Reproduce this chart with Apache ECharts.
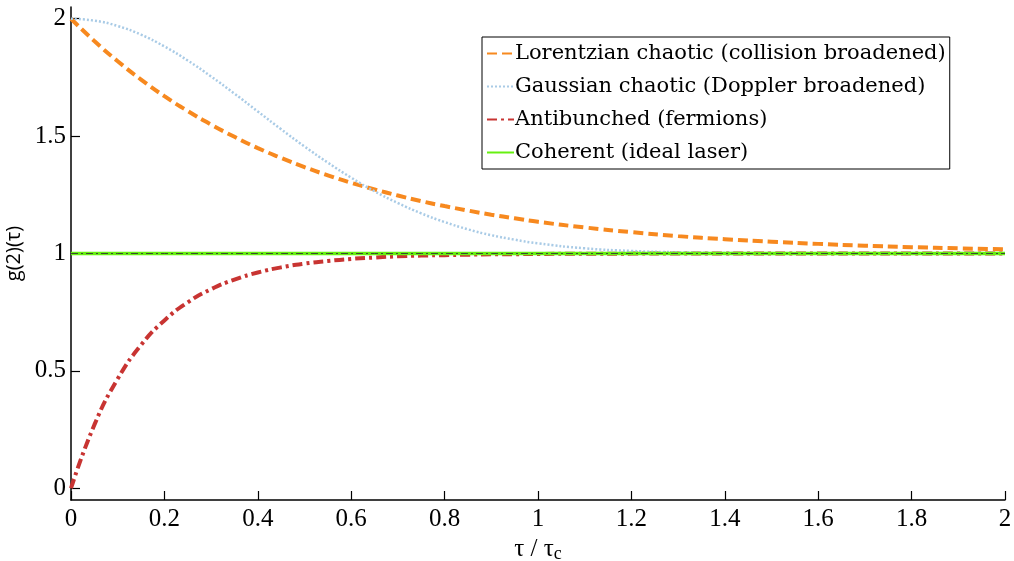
<!DOCTYPE html>
<html>
<head>
<meta charset="utf-8">
<script src="https://cdn.jsdelivr.net/npm/echarts@6/dist/echarts.min.js"></script>
<style>
  html, body { margin: 0; padding: 0; background: #fff; }
  #chart { width: 1014px; height: 561px; }
</style>
</head>
<body>
<div id="chart"></div>
<script>
// tau / tau_c sample points
var tau = [0, 0.05, 0.1, 0.15, 0.2, 0.25, 0.3, 0.35, 0.4, 0.45, 0.5, 0.55, 0.6, 0.65, 0.7, 0.75,
  0.8, 0.85, 0.9, 0.95, 1.0, 1.1, 1.2, 1.3, 1.4, 1.5, 1.6, 1.7, 1.8, 1.9, 2.0];

var lorentzian = [2.0, 1.905, 1.819, 1.741, 1.67, 1.607, 1.549, 1.497, 1.449, 1.407, 1.368, 1.333,
  1.301, 1.273, 1.247, 1.223, 1.202, 1.183, 1.165, 1.15, 1.135, 1.111, 1.091, 1.074, 1.061, 1.05,
  1.041, 1.033, 1.027, 1.022, 1.018];

var gaussian = [2.0, 1.992, 1.969, 1.932, 1.882, 1.822, 1.754, 1.681, 1.605, 1.529, 1.456, 1.387,
  1.323, 1.265, 1.215, 1.171, 1.134, 1.103, 1.078, 1.059, 1.043, 1.022, 1.011, 1.005, 1.002, 1.001,
  1.0, 1.0, 1.0, 1.0, 1.0];

var antibunched = [0, 0.27, 0.466, 0.61, 0.715, 0.792, 0.848, 0.889, 0.919, 0.941, 0.957, 0.968,
  0.977, 0.983, 0.988, 0.991, 0.993, 0.995, 0.9965, 0.997, 0.998, 0.999, 0.9995, 1.0, 1.0, 1.0,
  1.0, 1.0, 1.0, 1.0, 1.0];

var coherent = [1, 1, 1, 1, 1, 1, 1, 1, 1, 1, 1, 1, 1, 1, 1, 1, 1, 1, 1, 1, 1, 1, 1, 1, 1, 1,
  1, 1, 1, 1, 1];

var yTicks = [0, 0.5, 1, 1.5, 2];
var names = ["Lorentzian chaotic (collision broadened)", "Gaussian chaotic (Doppler broadened)",
  "Antibunched (fermions)", "Coherent (ideal laser)"];

function pairs(ys) {
  return tau.map(function (t, i) { return [t, ys[i]]; });
}

var serif = "'Liberation Serif', 'DejaVu Serif', serif";
var myChart = echarts.init(document.getElementById("chart"));
var option = {
  animation: false,
  backgroundColor: "#fff",
  grid: { left: 71, right: 9, top: 7, bottom: 61, outerBoundsMode: "none", containLabel: false },
  legend: {
    data: names,
    orient: "vertical",
    left: 482,
    top: 37,
    itemWidth: 27,
    itemHeight: 12,
    itemGap: 12,
    padding: [6, 4, 6, 4],
    backgroundColor: "#fff",
    borderColor: "#000",
    borderWidth: 1,
    itemStyle: { opacity: 0 },
    textStyle: { fontFamily: "'DejaVu Serif', serif", fontSize: 21, color: "#000", padding: [0, 0, 0, -4] }
  },
  xAxis: {
    type: "value",
    min: 0,
    max: 2,
    interval: 0.2,
    name: "{a|τ / τ}{s|c}",
    nameLocation: "middle",
    nameGap: 29,
    nameTextStyle: {
      rich: {
        a: { fontFamily: serif, fontSize: 25, color: "#000" },
        s: { fontFamily: serif, fontSize: 18, color: "#000", padding: [10, 0, 0, 0] }
      }
    },
    splitLine: { show: false },
    axisLine: { onZero: false, lineStyle: { color: "#000", width: 1.5 } },
    axisTick: { inside: true, length: 9, lineStyle: { color: "#000", width: 1.2 } },
    axisLabel: { fontFamily: serif, fontSize: 25, color: "#000", margin: 7 }
  },
  yAxis: {
    type: "value",
    min: -0.05,
    max: 2.05,
    name: "g(2)(τ)",
    nameLocation: "middle",
    nameGap: 40,
    nameTextStyle: { fontFamily: "'Open Sans', 'DejaVu Sans', sans-serif", fontSize: 20, color: "#000" },
    splitLine: { show: false },
    axisLine: { onZero: false, lineStyle: { color: "#000", width: 1.5 } },
    axisTick: { inside: true, length: 9, customValues: yTicks, lineStyle: { color: "#000", width: 1.2 } },
    axisLabel: { fontFamily: serif, fontSize: 25, color: "#000", margin: 5, customValues: yTicks }
  },
  series: [
    {
      name: names[0], type: "line", data: pairs(lorentzian), smooth: true, symbol: "none",
      lineStyle: { color: "#f7891f", width: 4, type: [10, 5] }, itemStyle: { color: "#f7891f" }, z: 3
    },
    {
      name: names[1], type: "line", data: pairs(gaussian), smooth: true, symbol: "none",
      lineStyle: { color: "#a9cbe6", width: 2.5, type: [2, 2] }, itemStyle: { color: "#a9cbe6" }, z: 4
    },
    {
      name: names[2], type: "line", data: pairs(antibunched), smooth: true, symbol: "none",
      lineStyle: { color: "#c83432", width: 4, type: [10, 4, 3, 4] }, itemStyle: { color: "#c83432" }, z: 3
    },
    {
      name: names[3], type: "line", data: pairs(coherent), symbol: "none",
      lineStyle: { color: "#66f010", width: 3.5 }, itemStyle: { color: "#66f010" }, z: 5
    },
    {
      name: "overlay", type: "line", data: pairs(coherent), symbol: "none", silent: true,
      lineStyle: { color: "#3a4a30", width: 1, type: [7, 3, 2, 3] }, z: 6
    }
  ]
};
option && myChart.setOption(option);
</script>
</body>
</html>
